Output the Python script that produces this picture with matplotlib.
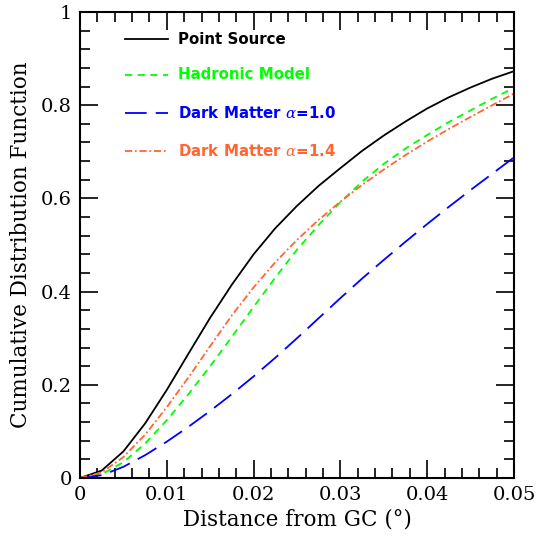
import numpy as np
import matplotlib
matplotlib.use("Agg")
import matplotlib.pyplot as plt
from matplotlib.ticker import MultipleLocator

# values (distance in degrees, CDF)
distance = [0, 0.0025, 0.005, 0.0075, 0.01, 0.0125, 0.015, 0.0175, 0.02,
            0.0225, 0.025, 0.0275, 0.03, 0.0325, 0.035, 0.0375, 0.04,
            0.0425, 0.045, 0.0475, 0.05]
point_source = [0, 0.016, 0.057, 0.117, 0.189, 0.267, 0.344, 0.415, 0.48,
                0.536, 0.584, 0.627, 0.665, 0.702, 0.735, 0.765, 0.793,
                0.817, 0.838, 0.857, 0.873]
hadronic = [0, 0.008, 0.034, 0.074, 0.124, 0.18, 0.24, 0.303, 0.367,
            0.43, 0.49, 0.543, 0.592, 0.636, 0.674, 0.707, 0.736,
            0.764, 0.789, 0.814, 0.837]
dm_10 = [0, 0.006, 0.024, 0.049, 0.078, 0.11, 0.144, 0.18, 0.218,
         0.258, 0.3, 0.343, 0.386, 0.428, 0.468, 0.507, 0.545,
         0.582, 0.618, 0.653, 0.688]
dm_14 = [0, 0.012, 0.045, 0.093, 0.152, 0.216, 0.283, 0.349, 0.409,
         0.463, 0.511, 0.554, 0.593, 0.629, 0.662, 0.693, 0.722,
         0.749, 0.775, 0.8, 0.825]

labels = ["Point Source", "Hadronic Model",
          r"Dark Matter $\alpha$=1.0", r"Dark Matter $\alpha$=1.4"]
colors = ["black", "#00ff00", "#0000ff", "#ff6633"]
styles = ["-", (0, (4, 3)), (0, (12, 5)), (0, (4, 1.5, 1, 1.5))]

plt.rcParams["font.family"] = "DejaVu Serif"
plt.rcParams["mathtext.fontset"] = "dejavuserif"

fig = plt.figure(figsize=(5.39, 5.36), dpi=100)
ax = fig.add_axes([0.1484, 0.1082, 0.8052, 0.8694])

series = [point_source, hadronic, dm_10, dm_14]
for y, c, ls in zip(series, colors, styles):
    ax.plot(distance, y, color=c, linestyle=ls, lw=1.3)

# hand-made legend
rows = [0.942, 0.865, 0.783, 0.702]
for lab, c, ls, yy in zip(labels, colors, styles, rows):
    ax.plot([0.104, 0.203], [yy, yy], transform=ax.transAxes,
            color=c, linestyle=ls, lw=1.3)
    ax.text(0.226, yy, lab, transform=ax.transAxes, color=c,
            fontsize=10.8, fontweight="bold", family="DejaVu Sans",
            va="center", ha="left")

ax.set_xlim(0, 0.05)
ax.set_ylim(0, 1)
ax.xaxis.set_major_locator(MultipleLocator(0.01))
ax.xaxis.set_minor_locator(MultipleLocator(0.002))
ax.yaxis.set_major_locator(MultipleLocator(0.2))
ax.yaxis.set_minor_locator(MultipleLocator(0.04))
ax.set_xticks(np.arange(0, 0.051, 0.01))
ax.set_xticklabels(["0", "0.01", "0.02", "0.03", "0.04", "0.05"])
ax.set_yticks(np.arange(0, 1.01, 0.2))
ax.set_yticklabels(["0", "0.2", "0.4", "0.6", "0.8", "1"])
ax.tick_params(which="both", direction="in", top=True, right=True,
               labelsize=14, width=1.2)
ax.tick_params(which="major", length=13, pad=6)
ax.tick_params(which="minor", length=7)
for sp in ax.spines.values():
    sp.set_linewidth(1.5)

ax.set_xlabel("Distance from GC (°)", fontsize=15.5, labelpad=3)
ax.set_ylabel("Cumulative Distribution Function", fontsize=15.5, labelpad=6)

fig.savefig("out.png", dpi=100)
